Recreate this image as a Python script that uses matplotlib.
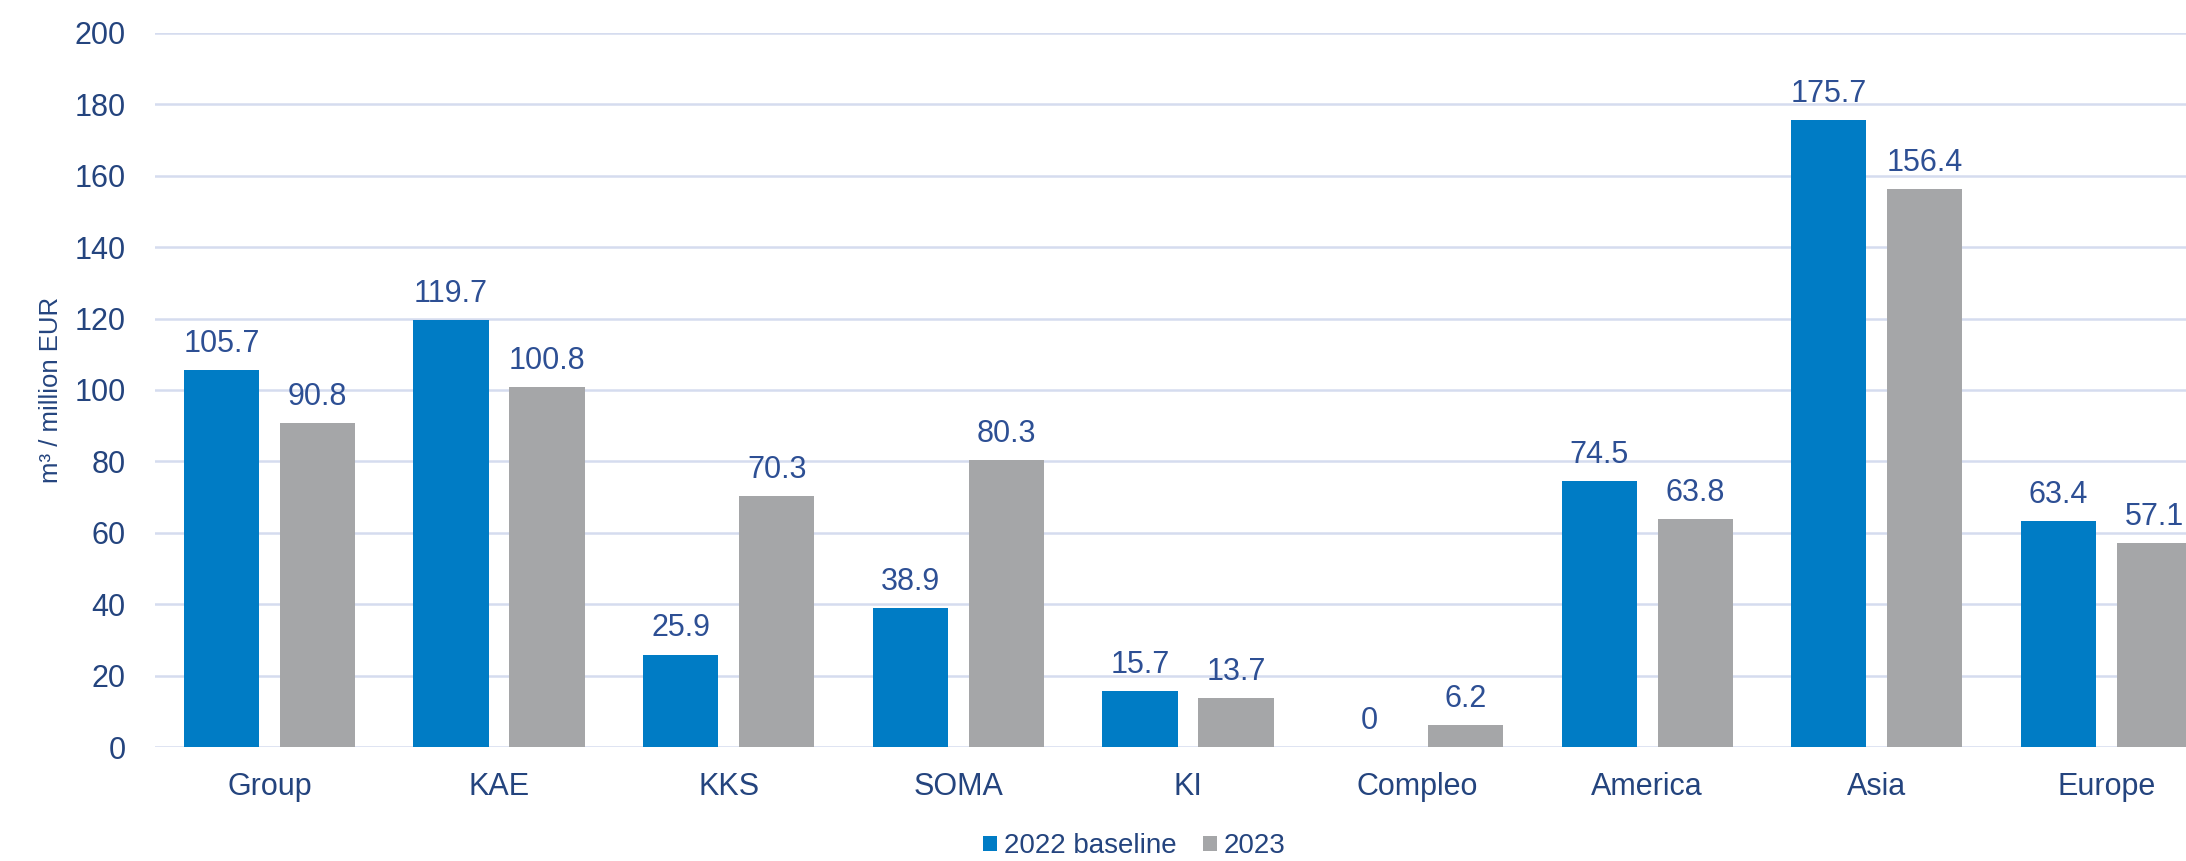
import numpy as np
import matplotlib.pyplot as plt

plt.rcParams['font.family'] = ['Liberation Sans', 'DejaVu Sans']

categories = ['Group', 'KAE', 'KKS', 'SOMA', 'KI', 'Compleo', 'America', 'Asia', 'Europe']
baseline_2022 = [105.7, 119.7, 25.9, 38.9, 15.7, 0, 74.5, 175.7, 63.4]
values_2023 = [90.8, 100.8, 70.3, 80.3, 13.7, 6.2, 63.8, 156.4, 57.1]
yticks = [0, 20, 40, 60, 80, 100, 120, 140, 160, 180, 200]

blue = '#007CC5'
gray = '#A5A6A8'
text_col = '#24447E'
label_col = '#2D4F94'
grid_col = '#D5DCEF'

fig = plt.figure(figsize=(21.86, 8.61), dpi=100)
# the original is cropped on the right, so the axes runs past the figure edge
ax = fig.add_axes([0.0707, 0.1324, 0.9455, 0.8293])

x = np.arange(len(categories))
w = 0.327
off = 0.209
b1 = ax.bar(x - off, baseline_2022, w, color=blue, label='2022 baseline', zorder=3)
b2 = ax.bar(x + off, values_2023, w, color=gray, label='2023', zorder=3)

for bars in (b1, b2):
    for r in bars:
        h = r.get_height()
        ax.annotate('{:g}'.format(h), (r.get_x() + r.get_width() / 2, h),
                    xytext=(0, 8), textcoords='offset points',
                    ha='center', va='bottom', fontsize=22, color=label_col)

ax.set_xlim(-0.5, len(categories) - 0.5)
ax.set_ylim(0, 200)
ax.set_yticks(yticks)
ax.set_xticks(x)
ax.set_xticklabels(categories)
ax.tick_params(axis='both', length=0, labelsize=22, labelcolor=text_col)
ax.tick_params(axis='y', pad=21)
ax.tick_params(axis='x', pad=18)
ax.grid(axis='y', color=grid_col, linewidth=1.8, zorder=0)
for s in ax.spines.values():
    s.set_visible(False)

ax.set_ylabel('m³ / million EUR', fontsize=18.5, color=text_col, va='center')
ax.yaxis.set_label_coords(-0.0503, 0.5)

fig.legend(handles=[b1, b2], loc='center', bbox_to_anchor=(0.519, 0.017),
           ncol=2, frameon=False, fontsize=20, labelcolor=text_col,
           handlelength=0.5, handleheight=0.5, handletextpad=0.25, columnspacing=0.95,
           borderaxespad=0, borderpad=0)

fig.savefig('out.png', dpi=100)
